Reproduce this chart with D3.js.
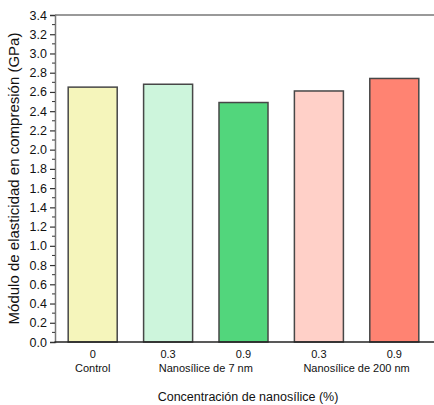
<!DOCTYPE html>
<html>
<head>
<meta charset="utf-8">
<script src="https://cdn.jsdelivr.net/npm/d3@7"></script>
<style>
  body { margin: 0; background: #fff; }
  text { font-family: "Liberation Sans", Arial, sans-serif; fill: #111; }
</style>
</head>
<body>
<svg id="chart" width="434" height="405"></svg>
<script>
// Compressive modulus (GPa) by nanosilica concentration
const keys = ["c0", "s7_03", "s7_09", "s200_03", "s200_09"];
const concLabels = ["0", "0.3", "0.9", "0.3", "0.9"];
const values = [2.65, 2.68, 2.49, 2.61, 2.74];
const colors = ["#f5f5bb", "#cdf5dc", "#52d67c", "#ffd0c8", "#ff8372"];
const groups = [
  { name: "Control", from: 0, to: 0 },
  { name: "Nanosílice de 7 nm", from: 1, to: 2 },
  { name: "Nanosílice de 200 nm", from: 3, to: 4 }
];
const yTicks = d3.range(0, 3.41, 0.2);

const svg = d3.select("#chart");
const plotL = 55, plotR = 432, plotT = 15, plotB = 342;

const x = d3.scaleBand().domain(keys).range([plotL, plotR]).paddingInner(0.35).paddingOuter(0.175);
const y = d3.scaleLinear().domain([0, 3.4]).range([plotB, plotT]);

// bars
svg.append("g").selectAll("rect")
  .data(values)
  .join("rect")
  .attr("x", (d, i) => x(keys[i]))
  .attr("y", d => y(d))
  .attr("width", x.bandwidth())
  .attr("height", d => y(0) - y(d))
  .attr("fill", (d, i) => colors[i])
  .attr("stroke", "#474747")
  .attr("stroke-width", 1.5);

// top frame line
svg.append("line")
  .attr("x1", plotL).attr("x2", 434)
  .attr("y1", plotT).attr("y2", plotT)
  .attr("stroke", "#777").attr("stroke-width", 1.5);

// y axis with major and minor ticks
const yAxis = svg.append("g").attr("transform", `translate(${plotL},0)`)
  .call(d3.axisLeft(y).tickValues(yTicks).tickFormat(d3.format(".1f")).tickSize(5).tickPadding(3));
yAxis.select(".domain").attr("stroke", "#777").attr("stroke-width", 1.5);
yAxis.selectAll(".tick line").attr("stroke", "#333").attr("stroke-width", 1.2);
yAxis.selectAll("text").attr("font-size", 12.5).attr("fill", "#111")
  .style("font-family", "'Liberation Sans', Arial, sans-serif");

const minor = d3.range(0.1, 3.4, 0.2);
svg.append("g").selectAll("line")
  .data(minor)
  .join("line")
  .attr("x1", plotL - 3).attr("x2", plotL)
  .attr("y1", d => y(d)).attr("y2", d => y(d))
  .attr("stroke", "#333").attr("stroke-width", 1);

// x axis line
svg.append("line")
  .attr("x1", plotL - 0.5).attr("x2", 434)
  .attr("y1", plotB).attr("y2", plotB)
  .attr("stroke", "#222").attr("stroke-width", 1.5);

// concentration labels
svg.append("g").selectAll("text")
  .data(concLabels)
  .join("text")
  .attr("x", (d, i) => x(keys[i]) + x.bandwidth() / 2)
  .attr("y", plotB + 16)
  .attr("text-anchor", "middle")
  .attr("font-size", 11)
  .text(d => d);

// group labels
svg.append("g").selectAll("text")
  .data(groups)
  .join("text")
  .attr("x", g => (x(keys[g.from]) + x(keys[g.to]) + x.bandwidth()) / 2)
  .attr("y", plotB + 30)
  .attr("text-anchor", "middle")
  .attr("font-size", 11)
  .text(g => g.name);

// axis titles
svg.append("text")
  .attr("x", 248).attr("y", 401)
  .attr("text-anchor", "middle")
  .attr("font-size", 12.5)
  .text("Concentración de nanosílice (%)");

svg.append("text")
  .attr("transform", `translate(19,${(plotT + plotB) / 2}) rotate(-90)`)
  .attr("text-anchor", "middle")
  .attr("font-size", 15)
  .text("Módulo de elasticidad en compresión (GPa)");
</script>
</body>
</html>
